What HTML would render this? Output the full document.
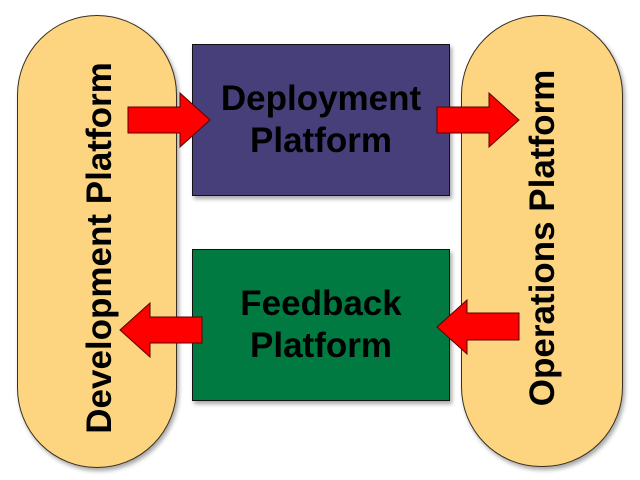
<!DOCTYPE html>
<html><head><style>
body{margin:0;width:640px;height:480px;background:#fff;overflow:hidden;position:relative;font-family:"Liberation Sans",Arial,sans-serif;font-weight:bold}
.pill{position:absolute;background:#FDD580;border:1.5px solid #3a3020;border-radius:80px/80px;box-shadow:2px 3px 4px rgba(0,0,0,.35)}
.box{position:absolute;border:1.5px solid #111;box-shadow:2px 3px 4px rgba(0,0,0,.35);display:flex;align-items:center;justify-content:center;text-align:center;font-size:35px;line-height:42px;color:#000}
.vt{position:absolute;font-size:35px;white-space:nowrap;transform:translate(-50%,-50%) rotate(-90deg);color:#000}
</style></head><body>
<div class="pill" style="left:17px;top:15px;width:158px;height:451px"></div>
<div class="pill" style="left:461px;top:15px;width:160px;height:450px"></div>
<div class="box" style="left:192px;top:44px;width:256px;height:150px;background:#463F7A">Deployment<br>Platform</div>
<div class="box" style="left:192px;top:249px;width:256px;height:150px;background:#007A40">Feedback<br>Platform</div>
<div class="vt" style="left:100px;top:248px">Development Platform</div>
<div class="vt" style="left:543px;top:238px">Operations Platform</div>
<svg width="640" height="480" style="position:absolute;left:0;top:0">
<g fill="#FF0000" stroke="#5a0000" stroke-width="1">
<polygon points="128,107 180,107 180,93 210,120 180,147 180,133 128,133"/>
<polygon points="437,107 489,107 489,93 519,120 489,147 489,133 437,133"/>
<polygon points="519,313 467,313 467,300 437,327 467,354 467,340 519,340"/>
<polygon points="202,317 150,317 150,303 120,330 150,357 150,343 202,343"/>
</g></svg>
</body></html>
